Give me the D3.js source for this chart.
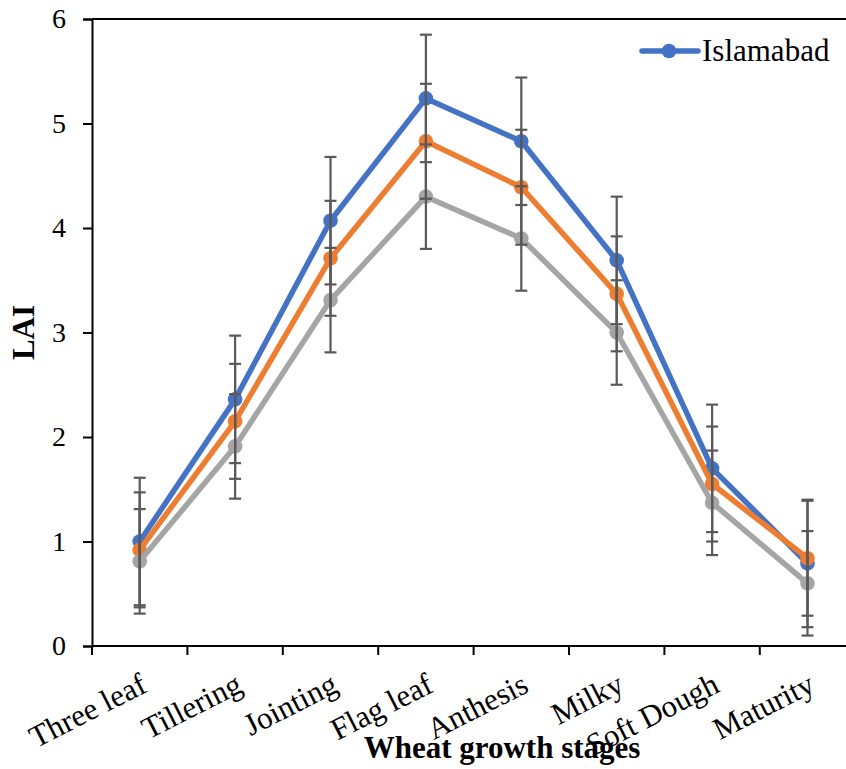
<!DOCTYPE html>
<html>
<head>
<meta charset="utf-8">
<script src="https://cdn.jsdelivr.net/npm/d3@7"></script>
<style>
  html, body { margin: 0; padding: 0; background: #fff; }
  svg { display: block; font-family: "Liberation Serif", "Times New Roman", serif; }
  svg text { font-family: "Liberation Serif", "Times New Roman", serif; }
</style>
</head>
<body>
<svg id="chart" width="846" height="769"></svg>
<script>
// Leaf area index across wheat growth stages
const stages = ["Three leaf", "Tillering", "Jointing", "Flag leaf", "Anthesis", "Milky", "Soft Dough", "Maturity"];
const seriesNames = ["Islamabad", "Series 2", "Series 3"];
const seriesColors = ["#4472C4", "#ED7D31", "#A5A5A5"];
const laiIslamabad = [1.00, 2.36, 4.07, 5.24, 4.83, 3.69, 1.70, 0.79];
const laiSeries2   = [0.92, 2.15, 3.71, 4.83, 4.39, 3.37, 1.55, 0.84];
const laiSeries3   = [0.81, 1.91, 3.31, 4.30, 3.90, 3.00, 1.37, 0.60];
const errIslamabad = [0.61, 0.61, 0.61, 0.61, 0.61, 0.61, 0.61, 0.61];
const errSeries2   = [0.55, 0.55, 0.55, 0.55, 0.55, 0.55, 0.55, 0.55];
const errSeries3   = [0.50, 0.50, 0.50, 0.50, 0.50, 0.50, 0.50, 0.50];
const yTicks = [0, 1, 2, 3, 4, 5, 6];
const legendShown = ["Islamabad"];

const series = [
  { name: seriesNames[0], color: seriesColors[0], values: laiIslamabad, errors: errIslamabad },
  { name: seriesNames[1], color: seriesColors[1], values: laiSeries2,   errors: errSeries2 },
  { name: seriesNames[2], color: seriesColors[2], values: laiSeries3,   errors: errSeries3 }
];

const svg = d3.select("#chart");
const plotLeft = 92, plotTop = 19, plotBottom = 646, bandW = 95.4;
const plotRight = plotLeft + bandW * stages.length;

const x = d3.scaleBand().domain(stages).range([plotLeft, plotRight]);
const y = d3.scaleLinear().domain([0, 6]).range([plotBottom, plotTop]);
const cx = d => x(d) + x.bandwidth() / 2;

// frame: top border
svg.append("line")
  .attr("x1", plotLeft).attr("x2", plotRight)
  .attr("y1", plotTop).attr("y2", plotTop)
  .attr("stroke", "#000").attr("stroke-width", 2);

// y axis
const yAxis = svg.append("g")
  .attr("transform", `translate(${plotLeft},0)`)
  .call(d3.axisLeft(y).tickValues(yTicks).tickSize(9).tickPadding(17).tickFormat(d3.format("d")));
yAxis.attr("font-family", null);
yAxis.select(".domain").attr("stroke", "#000").attr("stroke-width", 2);
yAxis.selectAll(".tick line").attr("stroke", "#000").attr("stroke-width", 2);
yAxis.selectAll(".tick text")
  .attr("font-size", 28).attr("fill", "#000");

// x axis with ticks on category boundaries
const xAxis = svg.append("g").attr("transform", `translate(0,${plotBottom})`);
xAxis.append("line")
  .attr("x1", plotLeft).attr("x2", plotRight)
  .attr("stroke", "#000").attr("stroke-width", 2);
xAxis.selectAll("line.tk")
  .data(d3.range(stages.length + 1))
  .join("line").attr("class", "tk")
  .attr("x1", i => plotLeft + i * x.bandwidth()).attr("x2", i => plotLeft + i * x.bandwidth())
  .attr("y1", 0).attr("y2", 9)
  .attr("stroke", "#000").attr("stroke-width", 2);
xAxis.selectAll("text.lbl")
  .data(stages)
  .join("text").attr("class", "lbl")
  .attr("transform", d => `translate(${cx(d) + 9},${45}) rotate(-27)`)
  .attr("text-anchor", "end")
  .attr("font-size", 31)
  .attr("fill", "#000")
  .text(d => d);

// lines and markers
const line = d3.line().x((v, i) => cx(stages[i])).y(v => y(v));
series.forEach(s => {
  const g = svg.append("g");
  g.append("path")
    .attr("d", line(s.values))
    .attr("fill", "none")
    .attr("stroke", s.color)
    .attr("stroke-width", 5.5)
    .attr("stroke-linejoin", "round")
    .attr("stroke-linecap", "round");
  g.selectAll("circle")
    .data(s.values)
    .join("circle")
    .attr("cx", (v, i) => cx(stages[i]))
    .attr("cy", v => y(v))
    .attr("r", 7.3)
    .attr("fill", s.color);
});

// error bars
const capHalf = 6;
series.forEach(s => {
  const g = svg.append("g").attr("stroke", "#595959").attr("stroke-width", 2.2);
  s.values.forEach((v, i) => {
    const px = cx(stages[i]);
    const hi = y(v + s.errors[i]), lo = y(v - s.errors[i]);
    g.append("line").attr("x1", px).attr("x2", px).attr("y1", hi).attr("y2", lo);
    g.append("line").attr("x1", px - capHalf).attr("x2", px + capHalf).attr("y1", hi).attr("y2", hi);
    g.append("line").attr("x1", px - capHalf).attr("x2", px + capHalf).attr("y1", lo).attr("y2", lo);
  });
});

// axis titles
svg.append("text")
  .attr("transform", `translate(34,${(plotTop + plotBottom) / 2}) rotate(-90)`)
  .attr("text-anchor", "middle")
  .attr("font-size", 31).attr("font-weight", "bold").attr("fill", "#000")
  .text("LAI");
svg.append("text")
  .attr("x", 502).attr("y", 758)
  .attr("text-anchor", "middle")
  .attr("font-size", 31).attr("font-weight", "bold").attr("fill", "#000")
  .text("Wheat growth stages");

// legend
const legend = svg.append("g").attr("transform", "translate(642,51)");
legendShown.forEach((name, k) => {
  const s = series.find(d => d.name === name);
  const row = legend.append("g").attr("transform", `translate(0,${k * 36})`);
  row.append("line").attr("x1", 0).attr("x2", 56).attr("stroke", s.color)
    .attr("stroke-width", 5.5).attr("stroke-linecap", "round");
  row.append("circle").attr("cx", 27).attr("r", 7.3).attr("fill", s.color);
  row.append("text").attr("x", 60).attr("y", 10)
    .attr("font-size", 31).attr("fill", "#000").text(name);
});
</script>
</body>
</html>
